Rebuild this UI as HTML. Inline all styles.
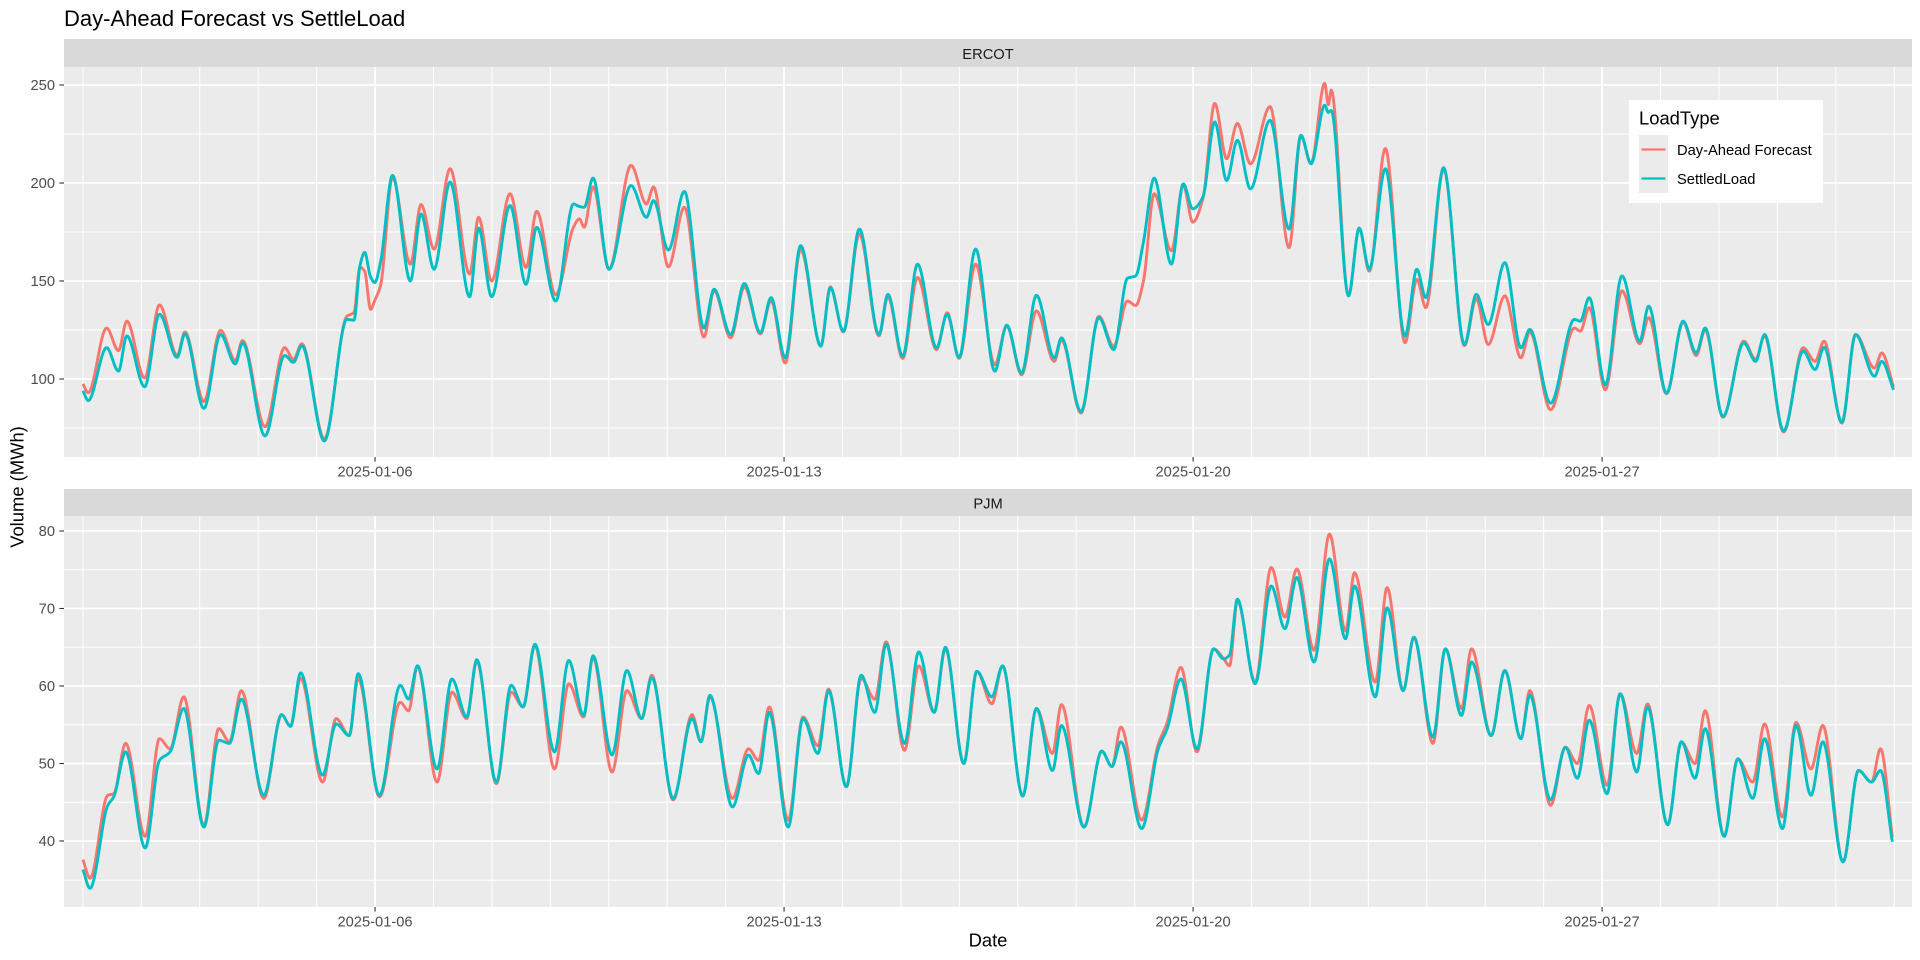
<!DOCTYPE html>
<html>
<head>
<meta charset="utf-8">
<style>
html,body{margin:0;padding:0;background:#fff;}
svg{display:block;}
text{font-family:"Liberation Sans",Arial,sans-serif;}
</style>
</head>
<body>
<svg id="c" width="1920" height="960" viewBox="0 0 1920 960" xmlns="http://www.w3.org/2000/svg">
<rect x="0" y="0" width="1920" height="960" fill="#ffffff"/>
<text x="64" y="26" font-size="22" fill="#000">Day-Ahead Forecast vs SettleLoad</text>

<!-- strips -->
<rect x="64" y="39" width="1848" height="28" fill="#D9D9D9"/>
<text x="988" y="59" font-size="14.7" fill="#1A1A1A" text-anchor="middle">ERCOT</text>
<rect x="64" y="489" width="1848" height="27" fill="#D9D9D9"/>
<text x="988" y="508.5" font-size="14.7" fill="#1A1A1A" text-anchor="middle">PJM</text>

<!-- panels -->
<rect x="64" y="67" width="1848" height="390" fill="#EBEBEB"/>
<rect x="64" y="516" width="1848" height="391" fill="#EBEBEB"/>
<g id="grid"></g>
<g id="series"></g>

<!-- ticks -->
<g stroke="#333" stroke-width="1.1">
<line x1="59.4" x2="64" y1="85" y2="85"/>
<line x1="59.4" x2="64" y1="183" y2="183"/>
<line x1="59.4" x2="64" y1="281" y2="281"/>
<line x1="59.4" x2="64" y1="379" y2="379"/>
<line x1="59.4" x2="64" y1="531" y2="531"/>
<line x1="59.4" x2="64" y1="608.5" y2="608.5"/>
<line x1="59.4" x2="64" y1="686" y2="686"/>
<line x1="59.4" x2="64" y1="763.5" y2="763.5"/>
<line x1="59.4" x2="64" y1="841" y2="841"/>
<line x1="375.05" x2="375.05" y1="457" y2="461.6"/>
<line x1="784.06" x2="784.06" y1="457" y2="461.6"/>
<line x1="1193.1" x2="1193.1" y1="457" y2="461.6"/>
<line x1="1602.1" x2="1602.1" y1="457" y2="461.6"/>
<line x1="375.05" x2="375.05" y1="907" y2="911.6"/>
<line x1="784.06" x2="784.06" y1="907" y2="911.6"/>
<line x1="1193.1" x2="1193.1" y1="907" y2="911.6"/>
<line x1="1602.1" x2="1602.1" y1="907" y2="911.6"/>
</g>
<g font-size="14.7" fill="#4D4D4D" text-anchor="end">
<text x="55" y="90.2">250</text>
<text x="55" y="188.2">200</text>
<text x="55" y="286.2">150</text>
<text x="55" y="384.2">100</text>
<text x="55" y="536.2">80</text>
<text x="55" y="613.7">70</text>
<text x="55" y="691.2">60</text>
<text x="55" y="768.7">50</text>
<text x="55" y="846.2">40</text>
</g>
<g font-size="14.7" fill="#4D4D4D" text-anchor="middle">
<text x="375.05" y="476.5">2025-01-06</text>
<text x="784.06" y="476.5">2025-01-13</text>
<text x="1193.1" y="476.5">2025-01-20</text>
<text x="1602.1" y="476.5">2025-01-27</text>
<text x="375.05" y="926.3">2025-01-06</text>
<text x="784.06" y="926.3">2025-01-13</text>
<text x="1193.1" y="926.3">2025-01-20</text>
<text x="1602.1" y="926.3">2025-01-27</text>
</g>
<text x="988" y="946.5" font-size="18.4" fill="#000" text-anchor="middle">Date</text>
<text transform="translate(23.3,487) rotate(-90)" font-size="18.4" fill="#000" text-anchor="middle">Volume (MWh)</text>

<!-- legend -->
<rect x="1629" y="100" width="194" height="103" fill="#ffffff"/>
<text x="1639" y="124.5" font-size="18.4" fill="#000">LoadType</text>
<rect x="1639" y="135" width="29" height="29" fill="#EBEBEB"/>
<rect x="1639" y="164" width="29" height="29" fill="#EBEBEB"/>
<line x1="1641.5" x2="1665.5" y1="149.5" y2="149.5" stroke="#F8766D" stroke-width="2.2"/>
<line x1="1641.5" x2="1665.5" y1="178.5" y2="178.5" stroke="#00BFC4" stroke-width="2.2"/>
<text x="1677" y="154.8" font-size="14.7" fill="#000">Day-Ahead Forecast</text>
<text x="1677" y="183.8" font-size="14.7" fill="#000">SettledLoad</text>
</svg>
<script>
(function(){
var NS="http://www.w3.org/2000/svg";
var grid=document.getElementById("grid");
var ser=document.getElementById("series");
function ln(g,x1,y1,x2,y2,w,c){var l=document.createElementNS(NS,"line");l.setAttribute("x1",x1);l.setAttribute("y1",y1);l.setAttribute("x2",x2);l.setAttribute("y2",y2);l.setAttribute("stroke",c);l.setAttribute("stroke-width",w);g.appendChild(l);}
var X0=82.9, D=58.43;
function dx(d){return X0+d*D;}
var panels=[{t:67,b:457,minor:[428,330,232,134],major:[379,281,183,85]},
            {t:516,b:907,minor:[880.2,802.2,724.8,647.2,569.8],major:[841,763.5,686,608.5,531]}];
panels.forEach(function(p){
  p.minor.forEach(function(y){ln(grid,64,y,1912,y,1,"#FFFFFF");});
  for(var d=0;d<=31;d++){ if(d===5||d===12||d===19||d===26) continue; var x=dx(d); ln(grid,x,p.t,x,p.b,1,"#FFFFFF");}
  p.major.forEach(function(y){ln(grid,64,y,1912,y,1.8,"#FFFFFF");});
  [5,12,19,26].forEach(function(d){var x=dx(d); ln(grid,x,p.t,x,p.b,1.8,"#FFFFFF");});
});
var topD=[[0,94,97.5],[0.091,89,93],[0.406,116,126],[0.609,104,114.5],[0.751,122,129.5],[1.056,96,100.5],[1.310,133,137.8],[1.614,111,112],[1.746,123,124],[2.071,85,88.5],[2.355,122.7,124.8],[2.609,107.7,109.4],[2.731,118.4,119.6],[3.117,71,75.7],[3.452,112,116],[3.604,108.5,110],[3.746,117,118],[4.132,68.4,69.5],[4.518,130.4,132],[4.640,130,134],[4.741,157.7,157],[4.822,164.6,155],[4.924,152,135.5],[4.995,149.2,140],[5.096,160,148],[5.299,203.9,203],[5.604,150,158.6],[5.787,184.2,189],[6.010,156,166.3],[6.284,200.5,207.3],[6.619,141.9,153.5],[6.772,177,182.5],[6.995,142,150],[7.310,188.5,194.5],[7.584,148.3,156.9],[7.766,177.4,185.6],[8.091,139.8,143],[8.396,189.3,177.4],[8.497,188,181.7],[8.579,187.6,177.4],[8.731,202.5,198],[9.005,156,156],[9.381,198.7,209],[9.645,182.5,189.3],[9.766,191,198],[10.020,165.8,157.2],[10.294,195.7,187.6],[10.629,126,121.4],[10.802,145.8,145],[11.086,122.7,121],[11.320,148.7,147],[11.594,123.6,123],[11.777,141.5,140],[12.020,110.8,108.2],[12.284,168,166],[12.629,116.7,117],[12.792,146.6,147],[13.015,124.4,124],[13.289,176.5,174],[13.624,122.7,122],[13.777,143.2,142],[14.030,111.6,110.5],[14.284,158.6,151.8],[14.609,115.9,115],[14.792,133,133.8],[14.995,111,110.5],[15.279,166.3,158.6],[15.607,104,107.3],[15.811,127.5,127],[16.065,103,102.2],[16.319,142.7,134.7],[16.625,110.8,109],[16.747,121,120],[17.082,83.4,82.6],[17.388,131.3,132],[17.642,115,116.7],[17.876,151.4,139.8],[18.018,152.6,137.5],[18.151,170,150],[18.334,202.5,194.5],[18.629,158.6,165.4],[18.832,199.6,199],[18.995,186.8,180],[19.168,192.8,192],[19.371,231.2,240.6],[19.575,201.3,212.4],[19.758,221.8,230.4],[19.982,197,209.8],[20.317,232,239],[20.643,176.5,167],[20.846,224.4,224],[21.019,209.8,210],[21.253,239.7,250.9],[21.314,236,240],[21.365,237,247.4],[21.660,142.4,142.4],[21.843,177,177],[22.016,156,155],[22.291,207.3,217.6],[22.627,121.9,118.5],[22.830,156,150.9],[22.983,141.5,136.4],[23.288,207.8,207],[23.644,117.6,117],[23.847,143.2,141],[24.051,127.8,117.6],[24.336,159.4,142.4],[24.610,115.9,110.8],[24.763,125.3,124],[25.119,87.7,84.3],[25.526,130.4,126],[25.627,129.5,124.4],[25.780,141.5,136.4],[26.055,97,94.5],[26.340,152.6,145],[26.645,119.3,118],[26.797,137.2,131.3],[27.103,92.8,92.5],[27.387,129.5,129],[27.611,113.3,112],[27.764,126,125],[28.069,80.9,80.5],[28.425,118.4,119.3],[28.628,109,110],[28.781,122.7,122],[29.107,73.5,73],[29.442,114.2,115.9],[29.646,104.8,109],[29.799,116.2,119.3],[30.104,78,77.5],[30.338,122.7,122.7],[30.663,101.4,105.6],[30.785,109,113.3],[30.989,94.5,96]];
var botD=[[0,36.3,37.6],[0.122,33.9,35.2],[0.426,44.6,45.9],[0.528,45.7,46.1],[0.731,51.5,52.6],[1.066,39.1,40.6],[1.310,50.4,53.2],[1.492,51.5,51.9],[1.726,57.1,58.6],[2.071,41.8,42],[2.325,53,54.5],[2.508,52.6,52.8],[2.711,58.3,59.4],[3.096,45.9,45.5],[3.401,56.3,56.3],[3.553,54.8,54.8],[3.726,61.7,61],[4.102,48.5,47.6],[4.335,55.1,55.8],[4.558,53.6,53.6],[4.711,61.6,61],[5.076,45.9,45.7],[5.431,60.1,57.9],[5.574,58.3,56.8],[5.726,62.6,62.6],[6.061,49.3,47.6],[6.315,60.9,59.2],[6.569,56,55.8],[6.741,63.4,63.2],[7.076,47.6,47.4],[7.330,60.1,59.2],[7.533,57.3,57.3],[7.736,65.4,65.2],[8.071,51.5,49.3],[8.315,63.3,60.3],[8.569,56.2,56],[8.731,63.9,63.7],[9.056,51.1,48.9],[9.310,62,59.4],[9.563,55.8,55.8],[9.736,61.1,61.4],[10.102,45.5,45.3],[10.426,55.8,56.3],[10.579,52.8,52.8],[10.731,58.8,58.6],[11.117,44.4,45.5],[11.391,51.1,51.9],[11.563,48.7,50.4],[11.746,56.6,57.3],[12.071,41.8,42.7],[12.325,55.8,56],[12.579,51.3,52.3],[12.761,59.4,59.6],[13.066,47,47],[13.320,61.4,61],[13.553,56.6,58.3],[13.746,65.4,65.7],[14.061,52.6,51.7],[14.305,64.4,62.6],[14.569,56.6,56.6],[14.761,65,64.8],[15.076,50,50],[15.299,61.9,61.9],[15.556,58.6,57.7],[15.740,62.6,62.6],[16.085,45.8,45.8],[16.319,57.1,57.1],[16.594,49.1,51.3],[16.747,54.9,57.6],[17.133,41.8,41.8],[17.438,51.6,51.6],[17.611,49.6,49.6],[17.764,52.8,54.7],[18.120,41.6,42.7],[18.405,51.9,52.5],[18.557,54.5,55.3],[18.791,60.9,62.4],[19.066,51.9,51.5],[19.351,64.8,64.8],[19.524,63.5,63.5],[19.625,64,62.6],[19.758,71.2,71],[20.063,60.3,60.5],[20.338,72.9,75.3],[20.572,67.4,68.9],[20.775,74,75.1],[21.070,63.1,64.6],[21.335,76.4,79.6],[21.609,66.1,67.1],[21.762,72.9,74.6],[22.118,58.6,60.5],[22.321,70.1,72.7],[22.596,59.4,59.4],[22.779,66.3,66.3],[23.105,53.4,52.6],[23.318,64.8,64.8],[23.593,56.2,57.1],[23.766,63.1,64.8],[24.102,53.6,53.6],[24.336,62,62],[24.610,53.2,53.2],[24.763,58.8,59.4],[25.119,45.3,44.6],[25.373,52.1,52.1],[25.577,48.1,50],[25.780,55.6,57.5],[26.085,46.1,47.2],[26.309,59,59],[26.594,48.9,51.3],[26.777,57.3,57.7],[27.123,42.1,42.1],[27.357,52.8,52.8],[27.591,48.1,50],[27.764,54.5,56.8],[28.090,40.6,40.6],[28.323,50.6,50.6],[28.578,45.5,47.6],[28.781,53.2,55.1],[29.086,41.6,43.1],[29.320,54.9,55.3],[29.575,45.9,49.3],[29.778,52.8,54.9],[30.124,37.3,37.3],[30.388,49.1,49.1],[30.612,47.6,47.6],[30.765,49.1,51.9],[30.968,39.9,40.5]];
function pchip(xs,ys){
  var n=xs.length,h=[],dl=[],m=[];
  for(var i=0;i<n-1;i++){h[i]=xs[i+1]-xs[i];dl[i]=(ys[i+1]-ys[i])/h[i];}
  m[0]=dl[0];m[n-1]=dl[n-2];
  for(i=1;i<n-1;i++){
    if(dl[i-1]*dl[i]<=0){m[i]=0;}
    else{var w1=2*h[i]+h[i-1],w2=h[i]+2*h[i-1];m[i]=(w1+w2)/(w1/dl[i-1]+w2/dl[i]);}
  }
  return function(x){
    var i=0; while(i<n-2 && x>xs[i+1]) i++;
    var hh=h[i],t=(x-xs[i])/hh; if(t<0)t=0; if(t>1)t=1;
    var t2=t*t,t3=t2*t;
    return (2*t3-3*t2+1)*ys[i]+(t3-2*t2+t)*hh*m[i]+(-2*t3+3*t2)*ys[i+1]+(t3-t2)*hh*m[i+1];
  };
}
function draw(data,col,color,ymap){
  var xs=data.map(function(r){return r[0];}),ys=data.map(function(r){return r[col];});
  var f=pchip(xs,ys),end=xs[xs.length-1],pts=[];
  for(var d=0;d<=end+1e-9;d+=1/96){pts.push(dx(d).toFixed(2)+","+ymap(f(d)).toFixed(2));}
  pts.push(dx(end).toFixed(2)+","+ymap(f(end)).toFixed(2));
  var p=document.createElementNS(NS,"polyline");
  p.setAttribute("points",pts.join(" "));p.setAttribute("fill","none");
  p.setAttribute("stroke",color);p.setAttribute("stroke-width","2.9");
  p.setAttribute("stroke-linejoin","round");
  ser.appendChild(p);
}
var ty=function(v){return 85+(250-v)*1.96;};
var by=function(v){return 531+(80-v)*7.75;};
draw(topD,2,"#F8766D",ty);
draw(topD,1,"#00BFC4",ty);
draw(botD,2,"#F8766D",by);
draw(botD,1,"#00BFC4",by);
})();
</script>
</body>
</html>
